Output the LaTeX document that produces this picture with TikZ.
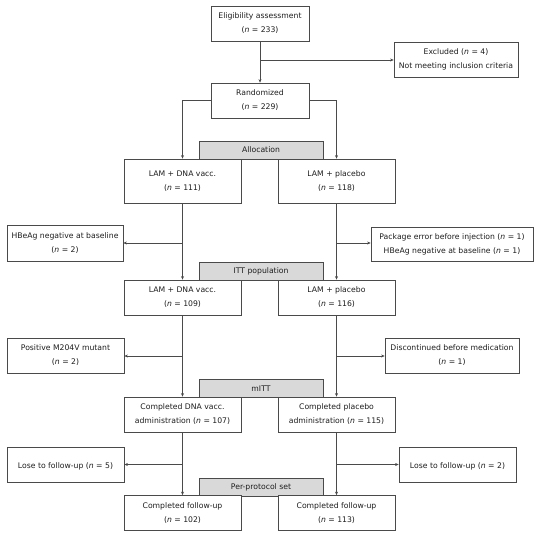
\documentclass[tikz,border=0pt]{standalone}
\usepackage{fontspec}
\setmainfont{DejaVu Sans}
\usetikzlibrary{arrows.meta}
\definecolor{boxline}{HTML}{4A4A4A}
\definecolor{grayfill}{HTML}{D9D9D9}
\definecolor{txt}{HTML}{1E1E1E}
\tikzset{
  box/.style={draw=boxline, fill=white, line width=0.6pt, align=center, inner sep=0pt,
              text=txt, font=\fontsize{7.7}{14}\selectfont,
              execute at begin node={\rule{0pt}{8.6pt}}},
  graybox/.style={draw=boxline, fill=grayfill, line width=0.6pt, align=center, inner sep=0pt,
              text=txt, font=\fontsize{7.7}{14}\selectfont, minimum width=124pt, minimum height=18pt},
  conn/.style={draw=boxline, line width=0.6pt},
  arr/.style={conn, -{Stealth[length=3.6pt,width=3pt]}}
}
\newcommand{\nn}{\textit{n}}
\begin{document}
\begin{tikzpicture}[x=1pt,y=-1pt]
\useasboundingbox (0,0) rectangle (536,537);
% gray header boxes (behind)
\node[graybox] (alloc) at (261,150) {Allocation};
\node[graybox] (itt) at (261,271) {ITT population};
\node[graybox] (mitt) at (261,388.5) {mITT};
\node[graybox] (pp) at (261,487) {Per-protocol set};
% main boxes
\node[box, minimum width=98pt, minimum height=35pt] (elig) at (260,23.5) {Eligibility assessment\\(\nn{} = 233)};
\node[box, minimum width=124pt, minimum height=35pt] (excl) at (456,59.5) {Excluded (\nn{} = 4)\\Not meeting inclusion criteria};
\node[box, minimum width=98pt, minimum height=35pt] (rand) at (260,100.5) {Randomized\\(\nn{} = 229)};
\node[box, minimum width=117pt, minimum height=44pt] (lamA1) at (182.5,181) {LAM + DNA vacc.\\(\nn{} = 111)};
\node[box, minimum width=117pt, minimum height=44pt] (lamP1) at (336.5,181) {LAM + placebo\\(\nn{} = 118)};
\node[box, minimum width=116pt, minimum height=36pt] (hbe) at (65,243) {HBeAg negative at baseline\\(\nn{} = 2)};
\node[box, minimum width=162pt, minimum height=34pt] (pkg) at (452,244) {Package error before injection (\nn{} = 1)\\HBeAg negative at baseline (\nn{} = 1)};
\node[box, minimum width=117pt, minimum height=35pt] (lamA2) at (182.5,297.5) {LAM + DNA vacc.\\(\nn{} = 109)};
\node[box, minimum width=117pt, minimum height=35pt] (lamP2) at (336.5,297.5) {LAM + placebo\\(\nn{} = 116)};
\node[box, minimum width=117pt, minimum height=35pt] (pos) at (65.5,355.5) {Positive M204V mutant\\(\nn{} = 2)};
\node[box, minimum width=134pt, minimum height=35pt] (disc) at (452,355.5) {Discontinued before medication\\(\nn{} = 1)};
\node[box, minimum width=117pt, minimum height=35pt] (compA) at (182.5,414.5) {Completed DNA vacc.\\administration (\nn{} = 107)};
\node[box, minimum width=117pt, minimum height=35pt] (compP) at (336.5,414.5) {Completed placebo\\administration (\nn{} = 115)};
\node[box, minimum width=117pt, minimum height=35pt] (loseA) at (65.5,465) {Lose to follow-up (\nn{} = 5)};
\node[box, minimum width=117pt, minimum height=35pt] (loseP) at (457.5,465) {Lose to follow-up (\nn{} = 2)};
\node[box, minimum width=117pt, minimum height=35pt] (finA) at (182.5,513) {Completed follow-up\\(\nn{} = 102)};
\node[box, minimum width=117pt, minimum height=35pt] (finP) at (336.5,513) {Completed follow-up\\(\nn{} = 113)};
% coordinates for branch points
\coordinate (b0) at (260,60);
\coordinate (bA1) at (182.5,243);
\coordinate (bP1) at (336.5,243);
\coordinate (bA2) at (182.5,356);
\coordinate (bP2) at (336.5,356);
\coordinate (bA3) at (182.5,464.5);
\coordinate (bP3) at (336.5,464.5);
% connectors
\draw[arr] (elig.south) -- (rand.north);
\draw[arr] (b0) -- (b0 -| excl.west);
\draw[arr] (rand.west) -| (lamA1.north);
\draw[arr] (rand.east) -| (lamP1.north);
\draw[arr] (lamA1.south) -- (lamA2.north);
\draw[arr] (lamP1.south) -- (lamP2.north);
\draw[arr] (bA1) -- (bA1 -| hbe.east);
\draw[arr] (bP1) -- (bP1 -| pkg.west);
\draw[arr] (lamA2.south) -- (compA.north);
\draw[arr] (lamP2.south) -- (compP.north);
\draw[arr] (bA2) -- (bA2 -| pos.east);
\draw[arr] (bP2) -- (bP2 -| disc.west);
\draw[arr] (compA.south) -- (finA.north);
\draw[arr] (compP.south) -- (finP.north);
\draw[arr] (bA3) -- (bA3 -| loseA.east);
\draw[arr] (bP3) -- (bP3 -| loseP.west);
\end{tikzpicture}
\end{document}
